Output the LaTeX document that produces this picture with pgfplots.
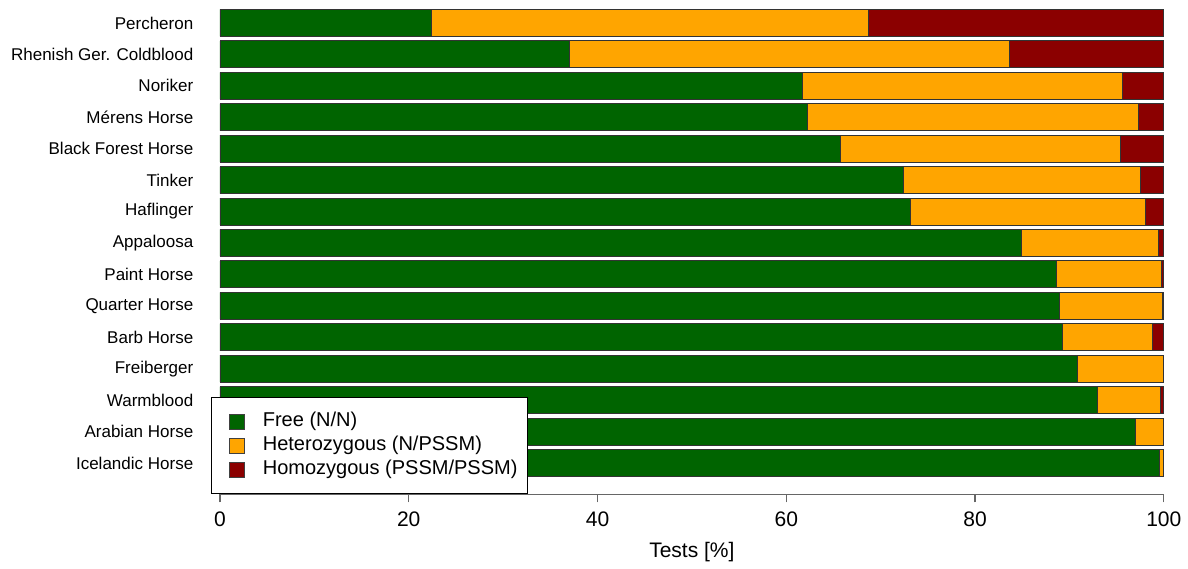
\documentclass[border=0pt]{standalone}
\usepackage{pgfplots}
\pgfplotsset{compat=1.18}
\usepackage{fontspec}
\setmainfont{Liberation Sans}

\definecolor{freeN}{HTML}{006400}
\definecolor{hetero}{HTML}{FFA500}
\definecolor{homo}{HTML}{8B0000}

\begin{document}
\begin{tikzpicture}
  \begin{axis}[
      xbar stacked,
      scale only axis,
      width=471.5pt, height=247pt,
      bar width=13.5pt,
      xmin=0, xmax=100,
      ymin=-1, ymax=14.73,
      axis x line*=bottom,
      axis y line*=left,
      y axis line style={draw=none},
      major y tick style={draw=none},
      x axis line style={draw=black!60, line width=0.6pt},
      xtick={0,20,40,60,80,100},
      tick align=outside,
      major x tick style={draw=black!60, line width=0.6pt},
      major tick length=4pt,
      /pgf/number format/assume math mode=true,
      xticklabel style={font=\fontsize{10.5}{12}\selectfont, yshift=-1pt},
      ytick={0,...,14},
      yticklabels={Icelandic Horse,Arabian Horse,Warmblood,Freiberger,Barb Horse,
        Quarter Horse,Paint Horse,Appaloosa,Haflinger,Tinker,Black Forest Horse,
        Mérens Horse,Noriker,Rhenish Ger. Coldblood,Percheron},
      yticklabel style={font=\fontsize{8.5}{10}\selectfont, anchor=east, xshift=-5.8pt},
      xlabel={Tests [\%]},
      xlabel style={font=\fontsize{10.5}{12}\selectfont,
        at={(axis description cs:0.5,0)}, anchor=center, yshift=-29pt},
      legend style={
        at={(-0.009,0)}, anchor=south west,
        draw=black, fill=white, line width=0.5pt,
        inner xsep=5pt, inner ysep=6pt,
        row sep=0pt, column sep=0pt,
        font=\fontsize{10}{12}\selectfont,
        nodes={inner xsep=0pt, inner ysep=1pt, text height=7.5pt, text depth=2.5pt, anchor=west},
      },
      legend cell align=left,
      legend image code/.code={
        \path (0pt,0pt) (20pt,0pt);
        \draw[#1, draw=black!75, line width=0.4pt] (3.5pt,-3.75pt) rectangle (11pt,3.75pt);
      },
    ]
    % Free (N/N)
    \addplot [fill=freeN, draw=black!80, line width=0.4pt] coordinates {
      (99.5,0) (97.0,1) (93.0,2) (90.8,3) (89.3,4) (88.9,5) (88.6,6) (84.9,7)
      (73.1,8) (72.4,9) (65.7,10) (62.2,11) (61.7,12) (37.0,13) (22.4,14)
    };
    % Heterozygous (N/PSSM)
    \addplot [fill=hetero, draw=black!80, line width=0.4pt] coordinates {
      (0.5,0) (3.0,1) (6.6,2) (9.2,3) (9.5,4) (10.9,5) (11.1,6) (14.5,7)
      (25.0,8) (25.1,9) (29.7,10) (35.1,11) (33.9,12) (46.6,13) (46.3,14)
    };
    % Homozygous (PSSM/PSSM)
    \addplot [fill=homo, draw=black!80, line width=0.4pt] coordinates {
      (0,0) (0,1) (0.4,2) (0,3) (1.2,4) (0.2,5) (0.3,6) (0.6,7)
      (1.9,8) (2.5,9) (4.6,10) (2.7,11) (4.4,12) (16.4,13) (31.3,14)
    };
    \legend{Free (N/N),Heterozygous (N/PSSM),Homozygous (PSSM/PSSM)}
  \end{axis}
  \path ([xshift=-2.2pt]current bounding box.west);
\end{tikzpicture}
\end{document}
